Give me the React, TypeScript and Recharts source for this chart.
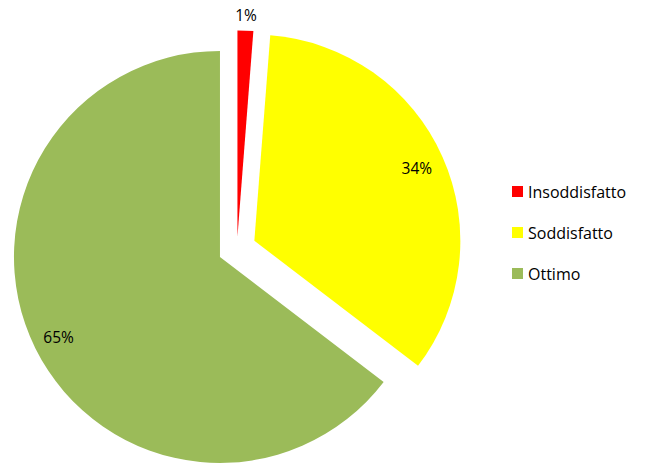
import React from 'react';
import { PieChart, Pie, Cell, Sector, Legend } from 'recharts';

const categories = ['Insoddisfatto', 'Soddisfatto', 'Ottimo'];
const values = [4, 111, 210];
const colors = ['#FF0000', '#FFFF00', '#9BBB59'];

// how far each slice is pulled out, and where its % label sits (distance from slice tip)
const explode = [12, 19, 19];
const labelRadius = [222, 178, 180];

const data = categories.map((name, i) => ({ name, value: values[i] }));

const RAD = Math.PI / 180;
const FONT = '"Open Sans", "Noto Sans", sans-serif';

const shift = (index: number, midAngle: number) => {
  const d = explode[index] || 0;
  return { dx: Math.cos(-midAngle * RAD) * d, dy: Math.sin(-midAngle * RAD) * d };
};

const renderShape = (props: any) => {
  const { dx, dy } = shift(props.index, props.midAngle);
  return (
    <Sector
      cx={props.cx + dx}
      cy={props.cy + dy}
      innerRadius={props.innerRadius}
      outerRadius={props.outerRadius}
      startAngle={props.startAngle}
      endAngle={props.endAngle}
      fill={props.fill}
      stroke="none"
    />
  );
};

const renderLabel = (props: any) => {
  const { cx, cy, midAngle, percent, index } = props;
  const { dx, dy } = shift(index, midAngle);
  const r = labelRadius[index];
  const x = cx + dx + Math.cos(-midAngle * RAD) * r;
  const y = cy + dy + Math.sin(-midAngle * RAD) * r;
  return (
    <text
      x={x}
      y={y}
      textAnchor="middle"
      dominantBaseline="central"
      fill="#000"
      fontSize={15.5}
      fontFamily={FONT}
    >
      {`${Math.round(percent * 100)}%`}
    </text>
  );
};

// legend keeps the series order (recharts would sort it by name)
const LegendContent = () => (
  <div>
    {categories.map((name, i) => (
      <div key={name} style={{ display: 'flex', alignItems: 'center', height: 41 }}>
        <span
          style={{
            display: 'inline-block',
            width: 11,
            height: 11,
            background: colors[i],
            marginRight: 5,
          }}
        />
        <span style={{ fontFamily: FONT, fontSize: 16, color: '#000' }}>{name}</span>
      </div>
    ))}
  </div>
);

export default function App() {
  return (
    <div style={{ position: 'absolute', left: 0, top: 0, width: 646, height: 466, background: '#fff' }}>
      <PieChart width={646} height={466} margin={{ top: 0, right: 0, bottom: 0, left: 0 }}>
        <Pie
          data={data}
          dataKey="value"
          nameKey="name"
          cx={237}
          cy={248.5}
          outerRadius={206}
          startAngle={90}
          endAngle={-270}
          stroke="none"
          labelLine={false}
          label={renderLabel}
          shape={renderShape}
          isAnimationActive={false}
        >
          {data.map((entry, i) => (
            <Cell key={entry.name} fill={colors[i]} />
          ))}
        </Pie>
        <Legend
          layout="vertical"
          content={<LegendContent />}
          wrapperStyle={{ position: 'absolute', left: 512, top: 171, width: 130 }}
        />
      </PieChart>
    </div>
  );
}
